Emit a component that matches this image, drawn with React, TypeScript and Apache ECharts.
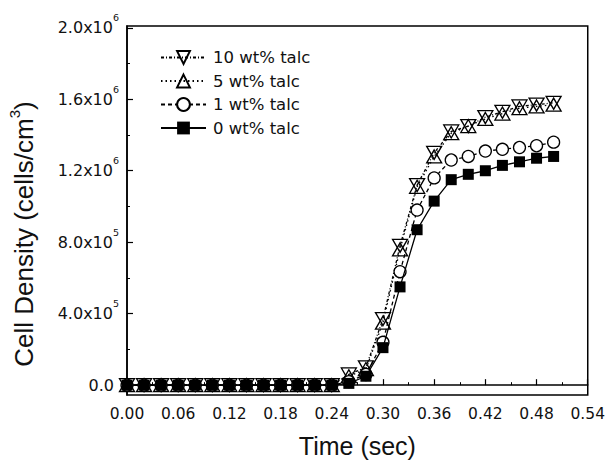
import React, { useEffect, useRef } from "react";
import * as echarts from "echarts";

const times = [0.0, 0.02, 0.04, 0.06, 0.08, 0.1, 0.12, 0.14, 0.16, 0.18, 0.2, 0.22, 0.24, 0.26, 0.28, 0.3, 0.32, 0.34, 0.36, 0.38, 0.4, 0.42, 0.44, 0.46, 0.48, 0.5];
const talc10 = [0, 0, 0, 0, 0, 0, 0, 0, 0, 0, 0, 0, 0, 0.06e6, 0.1e6, 0.37e6, 0.78e6, 1.12e6, 1.3e6, 1.42e6, 1.45e6, 1.5e6, 1.53e6, 1.56e6, 1.57e6, 1.58e6];
const talc5 = [0, 0, 0, 0, 0, 0, 0, 0, 0, 0, 0, 0, 0, 0.05e6, 0.09e6, 0.35e6, 0.76e6, 1.11e6, 1.28e6, 1.41e6, 1.45e6, 1.49e6, 1.52e6, 1.55e6, 1.56e6, 1.57e6];
const talc1 = [0, 0, 0, 0, 0, 0, 0, 0, 0, 0, 0, 0, 0, 0.02e6, 0.06e6, 0.24e6, 0.635e6, 0.98e6, 1.16e6, 1.26e6, 1.28e6, 1.31e6, 1.32e6, 1.33e6, 1.34e6, 1.36e6];
const talc0 = [0, 0, 0, 0, 0, 0, 0, 0, 0, 0, 0, 0, 0, 0.01e6, 0.05e6, 0.21e6, 0.55e6, 0.87e6, 1.03e6, 1.15e6, 1.18e6, 1.2e6, 1.23e6, 1.25e6, 1.27e6, 1.28e6];
const seriesNames = ["10 wt% talc", "5 wt% talc", "1 wt% talc", "0 wt% talc"];
const yMajorTicks = [0, 400000, 800000, 1200000, 1600000, 2000000];
const yMinorTicks = [200000, 600000, 1000000, 1400000, 1800000];

const FONT = "'DejaVu Sans', Verdana, sans-serif";
const TITLE_FONT = "'Liberation Sans', Arial, sans-serif";

function yLabel(v: number): string {
  if (v === 0) return "{z|0.0}";
  const exp = Math.floor(Math.log10(v) + 1e-9);
  const mant = v / Math.pow(10, exp);
  return `{b|${mant.toFixed(1)}x10}{s|${exp}}`;
}

export default function App() {
  const ref = useRef<HTMLDivElement>(null);
  useEffect(() => {
    if (!ref.current) return;
    const chart = echarts.init(ref.current, null, { renderer: "svg" });
    const pair = (arr: number[]) => times.map((t, i) => [t, arr[i]]);
    const yRange = { min: -55000, max: 2010000 };
    chart.setOption({
      animation: false,
      backgroundColor: "#fff",
      grid: {
        left: 127,
        right: 18,
        top: 26,
        bottom: 63,
        show: true,
        borderColor: "#000",
        borderWidth: 1.5,
        backgroundColor: "transparent",
      },
      legend: {
        orient: "vertical",
        left: 155,
        top: 44,
        itemWidth: 45,
        itemHeight: 16,
        itemGap: 6.5,
        data: seriesNames,
        textStyle: { fontFamily: FONT, fontSize: 16.5, color: "#111", lineHeight: 16, padding: [0, 0, 0, 2] },
      },
      xAxis: {
        type: "value",
        min: 0,
        max: 0.54,
        interval: 0.06,
        name: "Time (sec)",
        nameLocation: "middle",
        nameGap: 38,
        nameTextStyle: { fontFamily: TITLE_FONT, fontSize: 25, color: "#111" },
        axisLine: { lineStyle: { color: "#000", width: 1.5 } },
        axisTick: { inside: true, length: 6, lineStyle: { color: "#000", width: 1.2 } },
        minorTick: { show: true, splitNumber: 2, length: 3, lineStyle: { color: "#000", width: 1 } },
        splitLine: { show: false },
        axisLabel: {
          margin: 11,
          fontFamily: FONT,
          fontSize: 15.5,
          color: "#111",
          formatter: (v: number) => v.toFixed(2),
        },
      },
      yAxis: [
        {
          type: "value",
          ...yRange,
          axisLine: { show: true, lineStyle: { color: "#000", width: 1.5 } },
          axisTick: { inside: true, length: 6, customValues: yMajorTicks, lineStyle: { color: "#000", width: 1.2 } },
          splitLine: { show: false },
          axisLabel: {
            margin: 8,
            customValues: yMajorTicks,
            color: "#111",
            fontFamily: FONT,
            formatter: yLabel,
            rich: {
              z: { fontFamily: FONT, fontSize: 16, color: "#111", padding: [0, 5, 0, 0] },
              b: { fontFamily: FONT, fontSize: 16, color: "#111", lineHeight: 30, verticalAlign: "middle" },
              s: { fontFamily: FONT, fontSize: 9.5, color: "#111", lineHeight: 12, verticalAlign: "top" },
            },
          },
        },
        {
          type: "value",
          ...yRange,
          position: "left",
          axisLine: { show: false },
          axisLabel: { show: false },
          splitLine: { show: false },
          axisTick: { inside: true, length: 3, customValues: yMinorTicks, lineStyle: { color: "#000", width: 1 } },
        },
      ],
      graphic: [
        {
          type: "text",
          x: 24,
          y: 234,
          rotation: Math.PI / 2,
          style: {
            text: "{m|Cell Density (cells/cm}{s|3}{m|)}",
            align: "center",
            verticalAlign: "middle",
            rich: {
              m: { fontFamily: TITLE_FONT, fontSize: 26, fill: "#111", lineHeight: 34, verticalAlign: "middle" },
              s: { fontFamily: TITLE_FONT, fontSize: 15, fill: "#111", lineHeight: 18, verticalAlign: "top" },
            },
          },
        },
      ],
      series: [
        {
          name: seriesNames[0],
          type: "line",
          data: pair(talc10),
          symbol: "triangle",
          symbolRotate: 180,
          symbolSize: [15, 13],
          itemStyle: { color: "rgba(255,255,255,0)", borderColor: "#000", borderWidth: 1.3 },
          lineStyle: { color: "#000", width: 1.3, type: [3, 2, 1, 2] },
          z: 2,
        },
        {
          name: seriesNames[1],
          type: "line",
          data: pair(talc5),
          symbol: "triangle",
          symbolSize: [15, 13],
          itemStyle: { color: "rgba(255,255,255,0)", borderColor: "#000", borderWidth: 1.3 },
          lineStyle: { color: "#000", width: 1.3, type: [1.5, 3] },
          z: 3,
        },
        {
          name: seriesNames[2],
          type: "line",
          data: pair(talc1),
          symbol: "circle",
          symbolSize: 12,
          itemStyle: { color: "#fff", borderColor: "#000", borderWidth: 1.3 },
          lineStyle: { color: "#000", width: 1.3, type: [4, 3] },
          z: 4,
        },
        {
          name: seriesNames[3],
          type: "line",
          data: pair(talc0),
          symbol: "rect",
          symbolSize: 11,
          itemStyle: { color: "#000", borderColor: "#000", borderWidth: 0 },
          lineStyle: { color: "#000", width: 1.3, type: "solid" },
          z: 5,
        },
      ],
    });
    return () => chart.dispose();
  }, []);
  return (
    <div
      ref={ref}
      style={{ position: "fixed", left: 0, top: 0, width: 608, height: 463 }}
    />
  );
}
